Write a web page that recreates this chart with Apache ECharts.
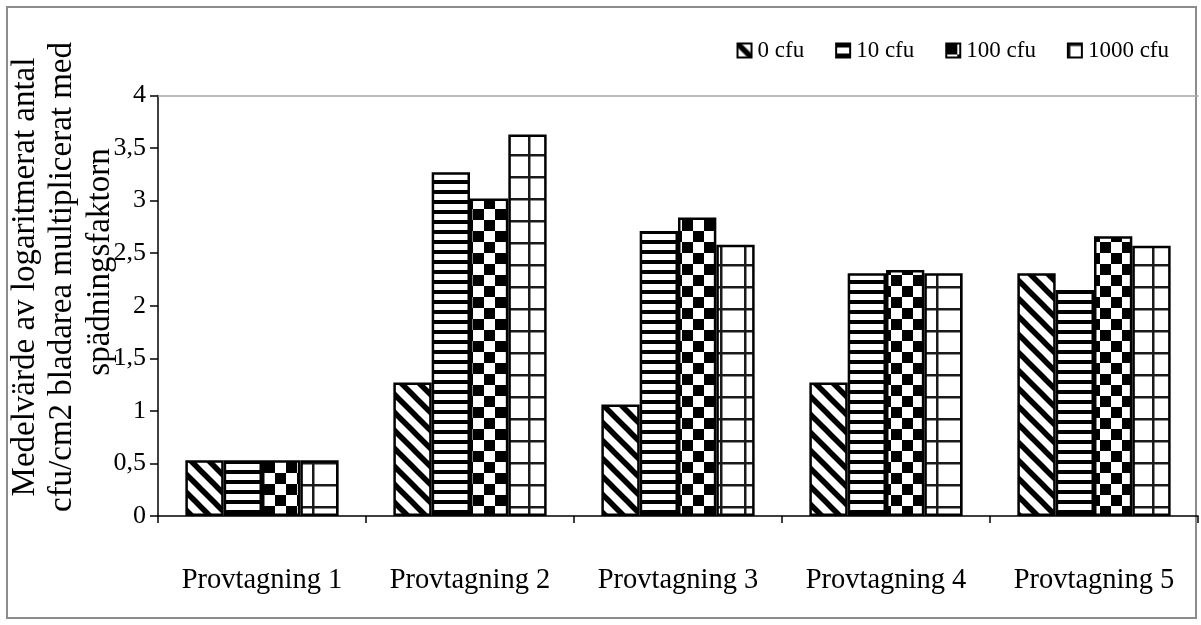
<!DOCTYPE html>
<html>
<head>
<meta charset="utf-8">
<script src="https://cdn.jsdelivr.net/npm/echarts@6/dist/echarts.min.js"></script>
<style>
  html, body { margin: 0; padding: 0; background: #fff; }
  #chart { width: 1201px; height: 625px; }
</style>
</head>
<body>
<div id="chart"></div>
<script>
// Sampling rounds and mean log cfu per treatment
const categories = ['Provtagning 1', 'Provtagning 2', 'Provtagning 3', 'Provtagning 4', 'Provtagning 5'];
const seriesNames = ['0 cfu', '10 cfu', '100 cfu', '1000 cfu'];
const cfu0 = [0.53, 1.27, 1.06, 1.27, 2.31];
const cfu10 = [0.53, 3.27, 2.71, 2.31, 2.15];
const cfu100 = [0.53, 3.02, 2.84, 2.34, 2.66];
const cfu1000 = [0.53, 3.63, 2.58, 2.31, 2.57];
const yTicks = [0, 0.5, 1, 1.5, 2, 2.5, 3, 3.5, 4];
const yTitleLines = [
  'Medelvärde av logaritmerat antal',
  'cfu/cm2 bladarea multiplicerat med',
  'spädningsfaktorn'
];

const FONT = '"Liberation Serif", "Times New Roman", serif';

// Black-and-white fill patterns, one per treatment
function tile(w, h, draw) {
  const c = document.createElement('canvas');
  c.width = w; c.height = h;
  const g = c.getContext('2d');
  g.fillStyle = '#fff';
  g.fillRect(0, 0, w, h);
  g.fillStyle = '#000';
  g.strokeStyle = '#000';
  draw(g, w, h);
  return c;
}
const diagonal = tile(18, 18, (g, w, h) => {
  g.lineWidth = 5.5;
  for (let k = -1; k <= 1; k++) {
    g.beginPath();
    g.moveTo(-2, k * h - 2);
    g.lineTo(w + 2, h + k * h + 2);
    g.stroke();
  }
});
const horizontal = tile(10, 10, (g, w, h) => {
  g.fillRect(0, 0, w, 4);
});
const checker = tile(22, 22, (g, w, h) => {
  g.fillRect(0, 0, 11, 11);
  g.fillRect(11, 11, 11, 11);
});
const grid = tile(24, 22, (g, w, h) => {
  g.fillStyle = '#1a1a1a';
  g.fillRect(0, 0, 2.5, h);
  g.fillRect(0, 0, w, 2.5);
});
const patterns = [diagonal, horizontal, checker, grid];
const values = [cfu0, cfu10, cfu100, cfu1000];

const chart = echarts.init(document.getElementById('chart'), null, { renderer: 'canvas' });

const series = seriesNames.map((name, i) => ({
  name,
  type: 'bar',
  data: values[i],
  barGap: '0%',
  barCategoryGap: '26.3%',
  itemStyle: {
    color: { image: patterns[i], repeat: 'repeat' },
    borderColor: '#000',
    borderWidth: 2.5
  },
  emphasis: { disabled: true }
}));

// Vertical axis title, one rotated text per line
const titleX = [25, 62, 100];
const titleY = [277, 277, 262];
const titleGraphics = yTitleLines.map((line, i) => ({
  type: 'text',
  silent: true,
  x: titleX[i],
  y: titleY[i],
  rotation: Math.PI / 2,
  style: {
    text: line,
    font: '33px ' + FONT,
    fill: '#000',
    align: 'center',
    verticalAlign: 'middle'
  }
}));

chart.setOption({
  animation: false,
  backgroundColor: '#fff',
  textStyle: { fontFamily: FONT, color: '#000' },
  grid: { left: 158, right: 3, top: 95.5, bottom: 109, containLabel: false },
  legend: {
    data: seriesNames,
    right: 27,
    top: 34,
    itemWidth: 14,
    itemHeight: 14,
    itemGap: 31,
    icon: 'rect',
    textStyle: { fontFamily: FONT, fontSize: 23, color: '#000', padding: [0, 0, 0, 1] }
  },
  xAxis: [{
    type: 'category',
    data: categories,
    axisLine: { lineStyle: { color: '#000', width: 1.5 } },
    axisTick: { show: true, interval: 0, length: 7, lineStyle: { color: '#000', width: 1.5 } },
    axisLabel: { interval: 0, fontFamily: FONT, fontSize: 28.5, color: '#000', margin: 50 },
    splitLine: { show: false }
  }, {
    // thin frame line along the top of the plot area
    type: 'category',
    position: 'top',
    data: categories,
    axisLine: { lineStyle: { color: '#a6a6a6', width: 1.5 } },
    axisTick: { show: false },
    axisLabel: { show: false }
  }],
  yAxis: {
    type: 'value',
    min: yTicks[0],
    max: yTicks[yTicks.length - 1],
    interval: 0.5,
    axisLine: { show: true, lineStyle: { color: '#000', width: 1.5 } },
    axisTick: { show: true, length: 8, lineStyle: { color: '#000', width: 1.5 } },
    axisLabel: {
      fontFamily: FONT, fontSize: 26, color: '#000', margin: 12,
      formatter: v => String(v).replace('.', ',')
    },
    splitLine: { show: false }
  },
  graphic: [
    {
      type: 'rect',
      silent: true,
      shape: { x: 7, y: 7, width: 1189, height: 611 },
      style: { fill: 'none', stroke: '#8c8c8c', lineWidth: 2 }
    }
  ].concat(titleGraphics),
  series
});
</script>
</body>
</html>
